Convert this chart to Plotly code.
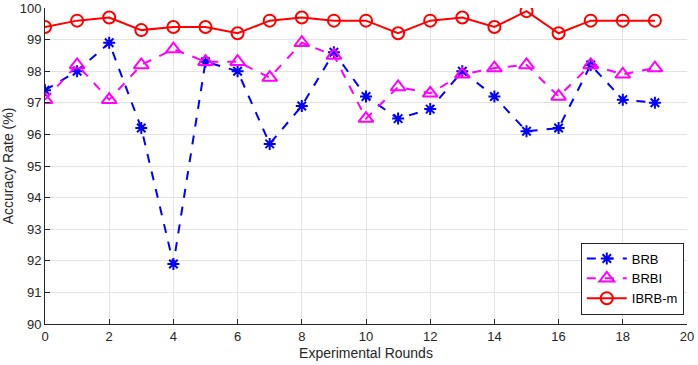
import plotly.graph_objects as go

rounds = list(range(20))
brb = [97.4, 98.0, 98.9, 96.2, 91.9, 98.3, 98.0, 95.7, 96.9, 98.6,
       97.2, 96.5, 96.8, 98.0, 97.2, 96.1, 96.2, 98.2, 97.1, 97.0]
brbi = [97.1, 98.2, 97.1, 98.2, 98.7, 98.3, 98.3, 97.8, 98.9, 98.5,
        96.5, 97.5, 97.3, 97.9, 98.1, 98.2, 97.2, 98.2, 97.9, 98.1]
ibrbm = [99.4, 99.6, 99.7, 99.3, 99.4, 99.4, 99.2, 99.6, 99.7, 99.6,
         99.6, 99.2, 99.6, 99.7, 99.4, 99.9, 99.2, 99.6, 99.6, 99.6]
x_ticks = list(range(0, 21, 2))
y_ticks = list(range(90, 101))

fig = go.Figure()
fig.add_trace(go.Scatter(x=rounds, y=brb, name="BRB", mode="lines+markers",
                         line=dict(color="#0000FF", width=2, dash="dash"),
                         marker=dict(symbol="asterisk-open", size=10,
                                     line=dict(color="#0000FF", width=2))))
fig.add_trace(go.Scatter(x=rounds, y=brbi, name="BRBI", mode="lines+markers",
                         line=dict(color="#FF00FF", width=2, dash="dash"),
                         marker=dict(symbol="triangle-up-open", size=13,
                                     line=dict(color="#FF00FF", width=2))))
fig.add_trace(go.Scatter(x=rounds, y=ibrbm, name="IBRB-m", mode="lines+markers",
                         line=dict(color="#FF0000", width=2),
                         marker=dict(symbol="circle-open", size=12,
                                     line=dict(color="#FF0000", width=2))))

axis_common = dict(showgrid=True, gridcolor="#e3e3e3", gridwidth=1,
                   showline=True, linecolor="#262626", linewidth=1,
                   ticks="inside", ticklen=5, tickcolor="#262626",
                   zeroline=False, mirror=False, ticklabeloverflow="allow",
                   automargin=False,
                   tickfont=dict(family="Liberation Sans, Arial", size=13, color="#262626"))

fig.update_layout(
    width=698, height=365,
    margin=dict(l=45, r=11, t=8, b=41),
    paper_bgcolor="white", plot_bgcolor="white",
    font=dict(family="Liberation Sans, Arial", size=13, color="#262626"),
    xaxis=dict(range=[0, 20.0001], tickvals=x_ticks,
               title=dict(text="Experimental Rounds", standoff=5,
                          font=dict(size=14)), **axis_common),
    yaxis=dict(range=[89.9999, 100.0001], tickvals=y_ticks,
               title=dict(text="Accuracy Rate (%)", standoff=2,
                          font=dict(size=14)), **axis_common),
    legend=dict(x=0.995, y=0.03, xanchor="right", yanchor="bottom",
                bgcolor="white", bordercolor="#262626", borderwidth=1,
                font=dict(size=13, color="#000000"),
                itemwidth=40, tracegroupgap=0),
    showlegend=True,
)

fig.write_html("out.html")
